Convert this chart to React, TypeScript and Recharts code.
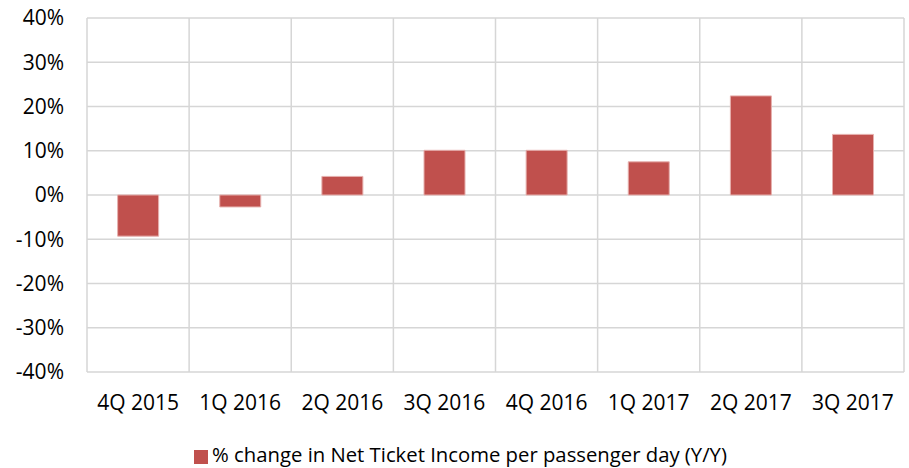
import { BarChart, Bar, XAxis, YAxis, CartesianGrid, Legend } from 'recharts';

const QUARTERS = ['4Q 2015', '1Q 2016', '2Q 2016', '3Q 2016', '4Q 2016', '1Q 2017', '2Q 2017', '3Q 2017'];
const CHANGE_PCT = [-9.3, -2.7, 4.2, 10.1, 10.1, 7.5, 22.4, 13.7];
const Y_TICKS = [-40, -30, -20, -10, 0, 10, 20, 30, 40];
const SERIES_NAME = '% change in Net Ticket Income per passenger day (Y/Y)';

const data = QUARTERS.map((q, i) => ({ quarter: q, change: CHANGE_PCT[i] }));

const FONT = "'Open Sans', sans-serif";

// vertical gridlines sit on category boundaries, not centres
const boundaryLines = ({ offset }: any) =>
  Array.from({ length: QUARTERS.length + 1 }, (_, i) => offset.left + (i * offset.width) / QUARTERS.length);

export default function App() {
  return (
    <div style={{ position: 'absolute', left: 0, top: 0, width: 909, height: 468, background: '#fff' }}>
      <BarChart
        width={909}
        height={468}
        data={data}
        margin={{ top: 18, right: 5, bottom: 0, left: 7 }}
        barCategoryGap="30%"
      >
        <CartesianGrid stroke="#d6d6d6" strokeWidth={1.5} verticalCoordinatesGenerator={boundaryLines} />
        <XAxis
          dataKey="quarter"
          axisLine={false}
          tickLine={false}
          tickSize={0}
          tickMargin={23}
          height={56}
          interval={0}
          tick={{ fill: '#000', fontSize: 21, fontFamily: FONT }}
        />
        <YAxis
          domain={[-40, 40]}
          ticks={Y_TICKS}
          tickFormatter={(v: number) => `${v}%`}
          axisLine={false}
          tickLine={false}
          tickSize={0}
          tickMargin={23}
          width={80}
          tick={{ fill: '#000', fontSize: 21, fontFamily: FONT }}
        />
        <Legend
          verticalAlign="bottom"
          height={40}
          iconType="square"
          iconSize={14}
          wrapperStyle={{ fontFamily: FONT, fontSize: 20.3, top: 440, left: 17 }}
          formatter={(value: string) => <span style={{ color: '#000' }}>{value}</span>}
        />
        <Bar
          dataKey="change"
          name={SERIES_NAME}
          fill="#c0504d"
          stroke="#e6b0ae"
          strokeWidth={1}
          isAnimationActive={false}
        />
      </BarChart>
    </div>
  );
}
